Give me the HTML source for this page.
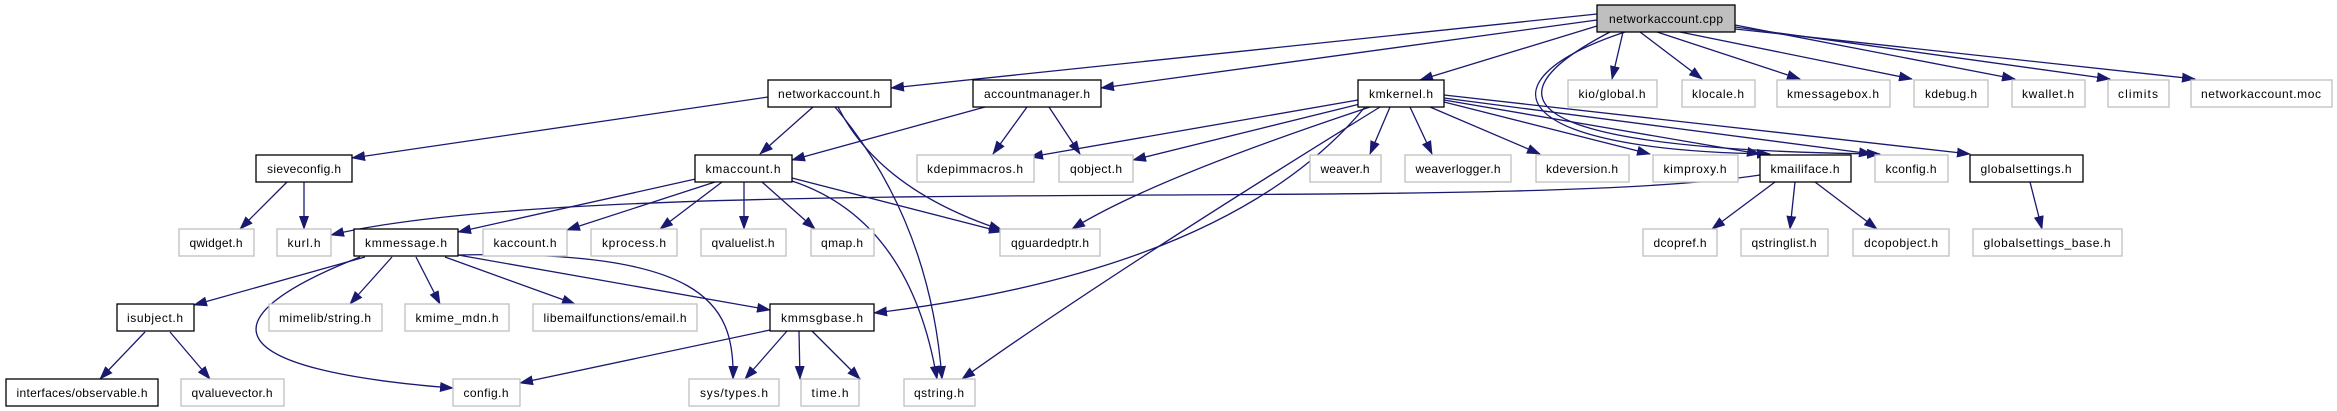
<!DOCTYPE html>
<html><head><meta charset="utf-8"><style>
html,body{margin:0;padding:0;background:#fff;}
svg{display:block;}
text{font-family:"Liberation Sans",sans-serif;font-size:12px;fill:#000;}
.e{fill:none;stroke:#191970;stroke-width:1.3;}
</style></head><body>
<svg width="2337" height="411" viewBox="0 0 2337 411" xmlns="http://www.w3.org/2000/svg">
<defs><marker id="a" markerUnits="userSpaceOnUse" markerWidth="14" markerHeight="10" refX="13" refY="5" orient="auto"><path d="M0,0 L14,5 L0,10 z" fill="#191970"/></marker></defs>
<g marker-end="url(#a)">
<path class="e" d="M1597,14 L891,88"/>
<path class="e" d="M1597,20 L1101,88"/>
<path class="e" d="M1597,26 L1420,80"/>
<path class="e" d="M1623,32 L1612,79"/>
<path class="e" d="M1640,32 L1702,79"/>
<path class="e" d="M1657,32 L1800,79"/>
<path class="e" d="M1680,32 L1912,79"/>
<path class="e" d="M1735,25 L2015,79"/>
<path class="e" d="M1735,27 L2110,79"/>
<path class="e" d="M1735,29 L2195,79"/>
<path class="e" d="M1625,32 C1480,80 1500,150 1770,154"/>
<path class="e" d="M1610,32 C1460,110 1560,150 1880,154"/>
<path class="e" d="M1358,100 L1030,157"/>
<path class="e" d="M1360,104 L1133,160"/>
<path class="e" d="M1390,107 L1370,154"/>
<path class="e" d="M1410,107 L1432,154"/>
<path class="e" d="M1430,107 L1540,154"/>
<path class="e" d="M1444,102 L1650,154"/>
<path class="e" d="M1444,100 L1760,154"/>
<path class="e" d="M1444,98 L1872,154"/>
<path class="e" d="M1444,95 L1970,154"/>
<path class="e" d="M1370,107 Q1150,180 1072,229"/>
<path class="e" d="M1380,107 Q1100,280 962,379"/>
<path class="e" d="M1365,107 Q1230,270 874,313"/>
<path class="e" d="M768,97 L352,158"/>
<path class="e" d="M813,107 L760,154"/>
<path class="e" d="M838,107 Q880,190 1002,230"/>
<path class="e" d="M835,107 Q930,220 942,379"/>
<path class="e" d="M985,107 L792,160"/>
<path class="e" d="M1027,107 L993,154"/>
<path class="e" d="M1049,107 L1080,154"/>
<path class="e" d="M287,182 L240,229"/>
<path class="e" d="M304,182 L304,229"/>
<path class="e" d="M700,178 L458,232"/>
<path class="e" d="M715,182 L567,230"/>
<path class="e" d="M722,182 L660,229"/>
<path class="e" d="M744,182 L744,229"/>
<path class="e" d="M762,182 L815,229"/>
<path class="e" d="M792,178 L1002,232"/>
<path class="e" d="M792,181 Q910,220 937,379"/>
<path class="e" d="M1760,175 C1500,215 600,170 331,235"/>
<path class="e" d="M1775,182 L1712,229"/>
<path class="e" d="M1795,182 L1790,229"/>
<path class="e" d="M1815,182 L1877,229"/>
<path class="e" d="M2030,182 L2042,229"/>
<path class="e" d="M365,257 L194,305"/>
<path class="e" d="M392,257 L350,304"/>
<path class="e" d="M416,257 L440,304"/>
<path class="e" d="M445,257 L575,304"/>
<path class="e" d="M458,255 L770,310"/>
<path class="e" d="M360,257 C200,320 220,370 453,388"/>
<path class="e" d="M458,255 C700,250 735,300 733,379"/>
<path class="e" d="M145,332 L100,379"/>
<path class="e" d="M170,332 L210,379"/>
<path class="e" d="M770,330 L520,383"/>
<path class="e" d="M787,331 L745,379"/>
<path class="e" d="M799,331 L800,379"/>
<path class="e" d="M812,331 L860,379"/>
</g>
<g stroke-width="1.3">
<rect x="1597" y="5" width="138" height="27" fill="#bfbfbf" stroke="#000"/>
<rect x="768" y="80" width="123" height="27" fill="#fff" stroke="#000"/>
<rect x="973" y="80" width="128" height="27" fill="#fff" stroke="#000"/>
<rect x="1358" y="80" width="86" height="27" fill="#fff" stroke="#000"/>
<rect x="256" y="155" width="96" height="27" fill="#fff" stroke="#000"/>
<rect x="695" y="155" width="97" height="27" fill="#fff" stroke="#000"/>
<rect x="1760" y="155" width="91" height="27" fill="#fff" stroke="#000"/>
<rect x="1970" y="155" width="113" height="27" fill="#fff" stroke="#000"/>
<rect x="354" y="229" width="104" height="27" fill="#fff" stroke="#000"/>
<rect x="117" y="304" width="77" height="27" fill="#fff" stroke="#000"/>
<rect x="770" y="304" width="104" height="27" fill="#fff" stroke="#000"/>
<rect x="6" y="379" width="152" height="27" fill="#fff" stroke="#000"/>
</g>
<g fill="#fff" stroke="#bfbfbf" stroke-width="1.3">
<rect x="1568" y="80" width="89" height="27"/>
<rect x="1682" y="80" width="73" height="27"/>
<rect x="1777" y="80" width="113" height="27"/>
<rect x="1914" y="80" width="74" height="27"/>
<rect x="2012" y="80" width="73" height="27"/>
<rect x="2108" y="80" width="61" height="27"/>
<rect x="2191" y="80" width="141" height="27"/>
<rect x="917" y="155" width="117" height="27"/>
<rect x="1059" y="155" width="74" height="27"/>
<rect x="1310" y="155" width="71" height="27"/>
<rect x="1405" y="155" width="106" height="27"/>
<rect x="1536" y="155" width="93" height="27"/>
<rect x="1653" y="155" width="85" height="27"/>
<rect x="1875" y="155" width="73" height="27"/>
<rect x="179" y="229" width="75" height="27"/>
<rect x="277" y="229" width="54" height="27"/>
<rect x="483" y="229" width="84" height="27"/>
<rect x="591" y="229" width="86" height="27"/>
<rect x="701" y="229" width="85" height="27"/>
<rect x="811" y="229" width="63" height="27"/>
<rect x="1000" y="229" width="100" height="27"/>
<rect x="1643" y="229" width="74" height="27"/>
<rect x="1741" y="229" width="87" height="27"/>
<rect x="1853" y="229" width="96" height="27"/>
<rect x="1973" y="229" width="149" height="27"/>
<rect x="269" y="304" width="113" height="27"/>
<rect x="405" y="304" width="104" height="27"/>
<rect x="533" y="304" width="164" height="27"/>
<rect x="181" y="379" width="103" height="27"/>
<rect x="453" y="379" width="67" height="27"/>
<rect x="689" y="379" width="90" height="27"/>
<rect x="801" y="379" width="58" height="27"/>
<rect x="904" y="379" width="71" height="27"/>
</g>
<g text-anchor="middle" lengthAdjust="spacingAndGlyphs">
<text x="1666" y="23" textLength="114">networkaccount.cpp</text>
<text x="829" y="98" textLength="102">networkaccount.h</text>
<text x="1037" y="98" textLength="106">accountmanager.h</text>
<text x="1401" y="98" textLength="64">kmkernel.h</text>
<text x="1612" y="98" textLength="67">kio/global.h</text>
<text x="1718" y="98" textLength="52">klocale.h</text>
<text x="1833" y="98" textLength="92">kmessagebox.h</text>
<text x="1951" y="98" textLength="52">kdebug.h</text>
<text x="2048" y="98" textLength="52">kwallet.h</text>
<text x="2138" y="98" textLength="40">climits</text>
<text x="2261" y="98" textLength="120">networkaccount.moc</text>
<text x="304" y="173" textLength="74">sieveconfig.h</text>
<text x="743" y="173" textLength="75">kmaccount.h</text>
<text x="975" y="173" textLength="96">kdepimmacros.h</text>
<text x="1096" y="173" textLength="52">qobject.h</text>
<text x="1345" y="173" textLength="49">weaver.h</text>
<text x="1458" y="173" textLength="85">weaverlogger.h</text>
<text x="1582" y="173" textLength="72">kdeversion.h</text>
<text x="1695" y="173" textLength="63">kimproxy.h</text>
<text x="1805" y="173" textLength="69">kmailiface.h</text>
<text x="1911" y="173" textLength="51">kconfig.h</text>
<text x="2026" y="173" textLength="91">globalsettings.h</text>
<text x="216" y="247" textLength="53">qwidget.h</text>
<text x="304" y="247" textLength="33">kurl.h</text>
<text x="406" y="247" textLength="82">kmmessage.h</text>
<text x="525" y="247" textLength="63">kaccount.h</text>
<text x="634" y="247" textLength="64">kprocess.h</text>
<text x="743" y="247" textLength="63">qvaluelist.h</text>
<text x="842" y="247" textLength="42">qmap.h</text>
<text x="1050" y="247" textLength="78">qguardedptr.h</text>
<text x="1680" y="247" textLength="53">dcopref.h</text>
<text x="1784" y="247" textLength="65">qstringlist.h</text>
<text x="1901" y="247" textLength="74">dcopobject.h</text>
<text x="2047" y="247" textLength="127">globalsettings_base.h</text>
<text x="155" y="322" textLength="56">isubject.h</text>
<text x="325" y="322" textLength="92">mimelib/string.h</text>
<text x="457" y="322" textLength="83">kmime_mdn.h</text>
<text x="615" y="322" textLength="143">libemailfunctions/email.h</text>
<text x="822" y="322" textLength="82">kmmsgbase.h</text>
<text x="82" y="397" textLength="131">interfaces/observable.h</text>
<text x="232" y="397" textLength="81">qvaluevector.h</text>
<text x="486" y="397" textLength="45">config.h</text>
<text x="734" y="397" textLength="68">sys/types.h</text>
<text x="830" y="397" textLength="37">time.h</text>
<text x="939" y="397" textLength="50">qstring.h</text>
</g>
</svg>
</body></html>
